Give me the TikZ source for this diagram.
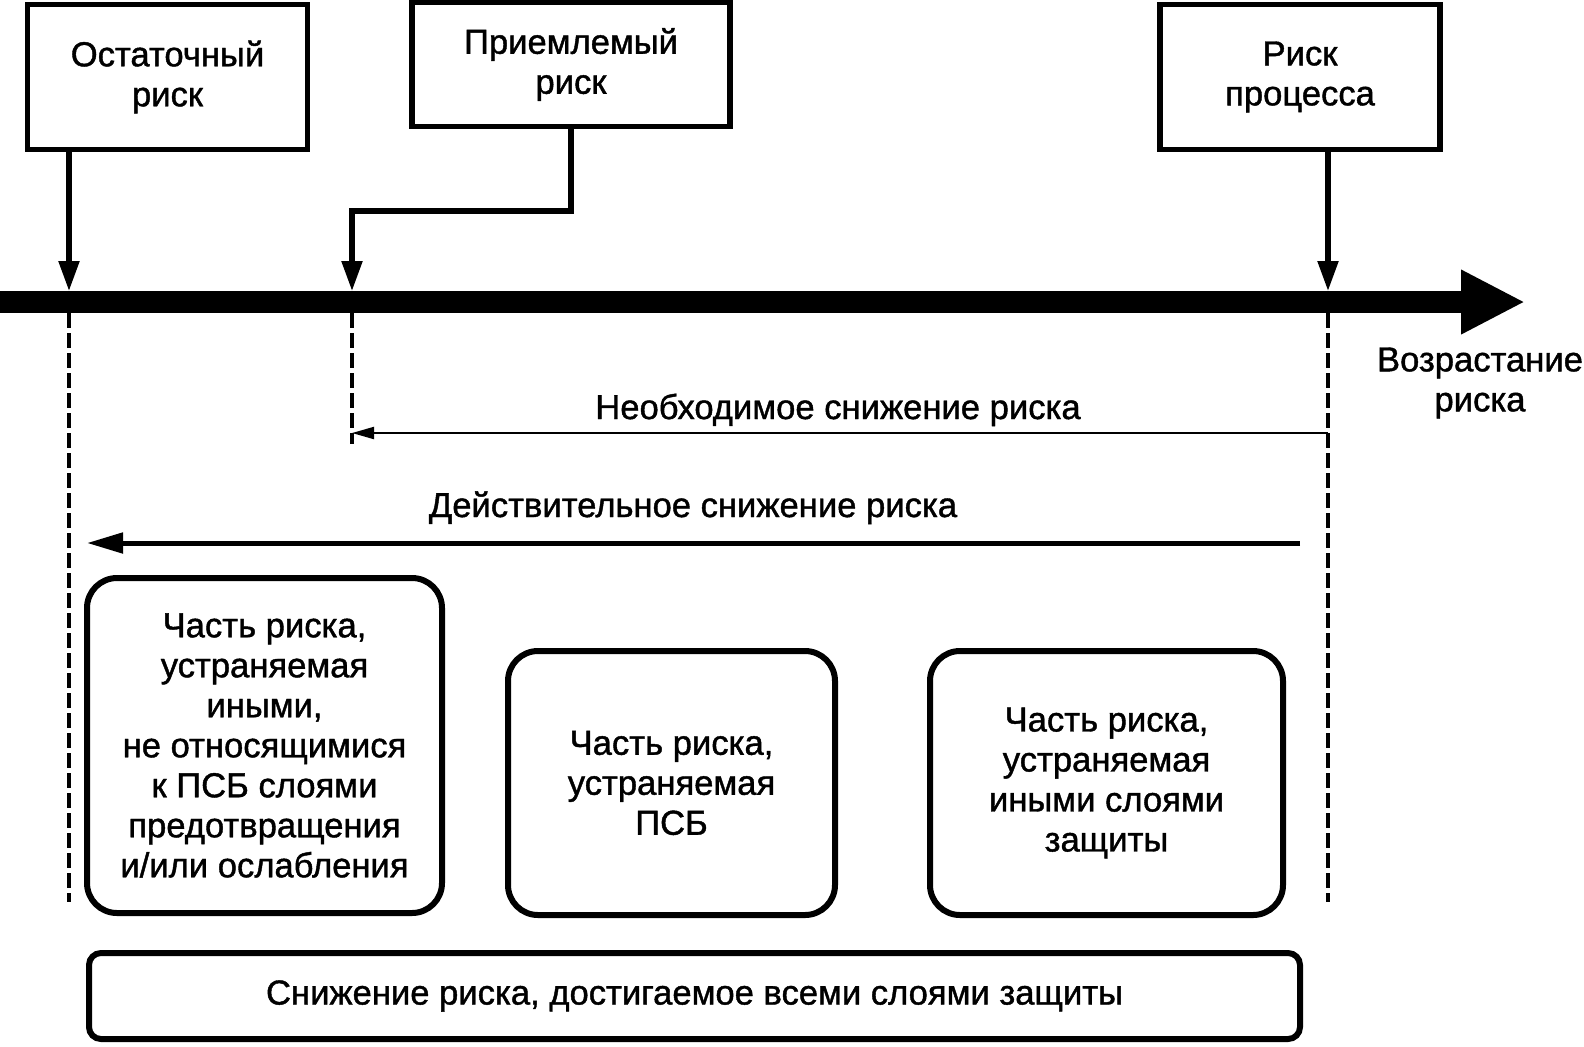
\documentclass[tikz,border=0pt]{standalone}
\usepackage{fontspec}
\setmainfont{Liberation Sans}[BoldFont=Liberation Sans, BoldFeatures={FakeBold=1.2}]
\usepackage{tikz}
\usetikzlibrary{positioning,calc,arrows.meta}

\tikzset{
  txt/.style={font=\fontsize{17.3}{20}\selectfont\bfseries, align=center, inner sep=0pt},
  topbox/.style={txt, draw, line width=2.7pt},
  layerbox/.style={txt, draw, line width=3pt, rounded corners=15pt},
  pointer/.style={line width=2.6pt, -{Triangle[length=15pt,width=10pt]}},
  guide/.style={line width=2pt, dash pattern=on 7.5pt off 2.5pt},
}

\begin{document}
\begin{tikzpicture}[x=0.5pt,y=-0.5pt]
            \useasboundingbox (0,0) rectangle (1584,1046);

            \node (Resid) at (167.5,77) [topbox, minimum width=140pt, minimum height=72.5pt] {Остаточный\\риск};
            \node (Accept) at (571,64.5) [topbox, minimum width=159pt, minimum height=62pt] {Приемлемый\\риск};
            \node (Proc) at (1300,77) [topbox, minimum width=140pt, minimum height=72.5pt] {Риск\\процесса};

            \coordinate (AxisL) at (0,302);
            \coordinate (AxisR) at (1525,302);
            \coordinate (PResid) at (69,291);
            \coordinate (PAccept) at (352,291);
            \coordinate (PProc) at (1328,291);
            \coordinate (Kink) at (352,211);

            \draw [line width=11pt, -{Triangle[length=32pt,width=30pt]}] (AxisL) -- (AxisR);
            \node (Grow) at (1480,383) [txt] {Возрастание\\риска};

            \draw [pointer] (Resid.south -| PResid) -- (PResid);
            \draw [pointer, line join=miter] (Accept.south) |- (Kink) -- (PAccept);
            \draw [pointer] (Proc.south -| PProc) -- (PProc);

            \draw [guide] (69,313) -- (69,902);
            \draw [guide] (352,313) -- (352,444);
            \draw [guide] (1328,313) -- (1328,902);

            \coordinate (NeedR) at (1328,433);
            \coordinate (NeedL) at (352,433);
            \draw [line width=1pt, -{Triangle[length=11pt,width=6pt]}] (NeedR) -- (NeedL);
            \node (Need) at (838,419) [txt, anchor=base] {Необходимое снижение риска};

            \coordinate (RealR) at (1300,543);
            \coordinate (RealL) at (87,543);
            \draw [line width=2.5pt, -{Triangle[length=18pt,width=10pt]}] (RealR) -- (RealL);
            \node (Real) at (693,517) [txt, anchor=base] {Действительное снижение риска};

            \node (Other) at (264.5,745.5) [layerbox, minimum width=177.5pt, minimum height=167.5pt] {Часть риска,\\устраняемая\\иными,\\не относящимися\\к ПСБ слоями\\предотвращения\\и/или ослабления};
            \node (Sis) at (671.5,783) [layerbox, minimum width=163.5pt, minimum height=132pt] {Часть риска,\\устраняемая\\ПСБ};
            \node (Prot) at (1106.5,783) [layerbox, minimum width=176.5pt, minimum height=132pt] {Часть риска,\\устраняемая\\иными слоями\\защиты};

            \node (All) at (694.5,996) [txt, draw, line width=3pt, rounded corners=6pt, minimum width=605.5pt, minimum height=43pt] {Снижение риска, достигаемое всеми слоями защиты};
        \end{tikzpicture}
\end{document}
